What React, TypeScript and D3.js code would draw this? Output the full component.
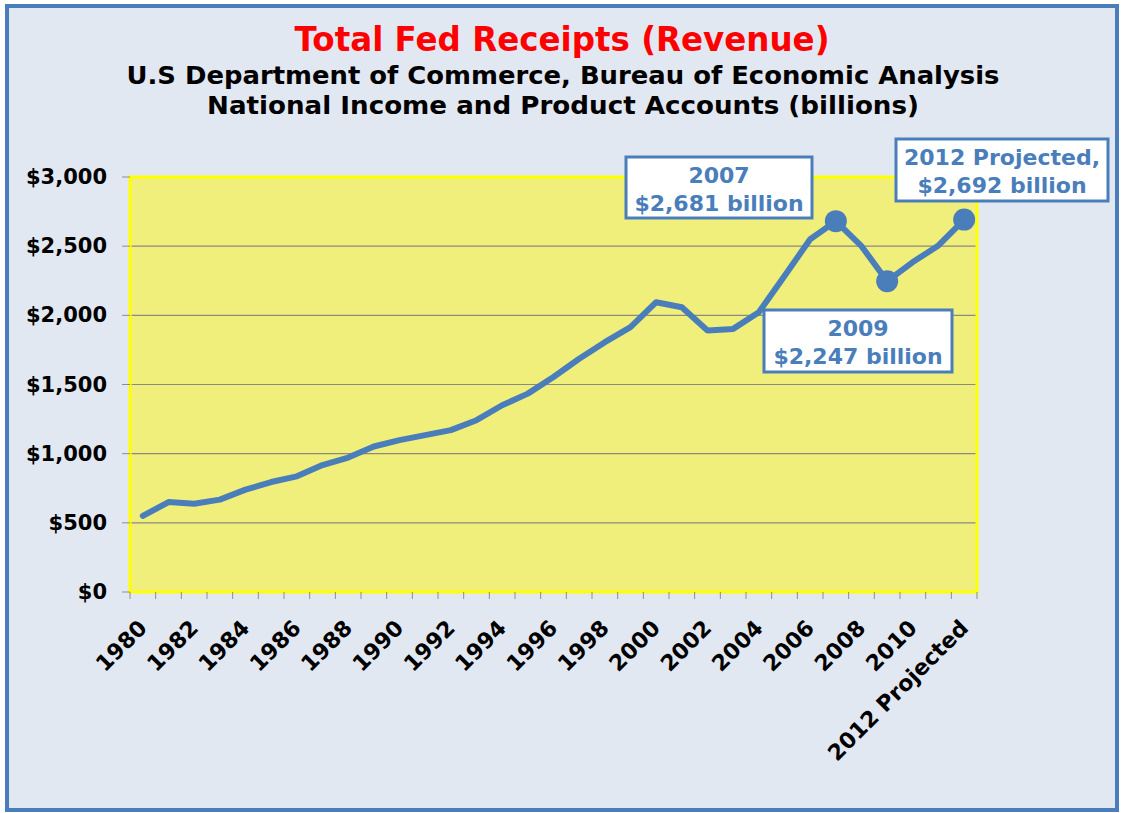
import * as d3 from 'd3'

// Federal receipts, billions of dollars
const YEARS = [
  '1980', '1981', '1982', '1983', '1984', '1985', '1986', '1987', '1988', '1989',
  '1990', '1991', '1992', '1993', '1994', '1995', '1996', '1997', '1998', '1999',
  '2000', '2001', '2002', '2003', '2004', '2005', '2006', '2007', '2008', '2009',
  '2010', '2011', '2012 Projected',
]
const RECEIPTS = [
  550, 650, 638, 668, 740, 795, 836, 918, 972, 1052,
  1098, 1134, 1170, 1242, 1350, 1434, 1554, 1686, 1806, 1915,
  2095, 2058, 1890, 1902, 2022, 2285, 2550, 2681, 2500, 2247,
  2385, 2505, 2692,
]
const Y_TICKS = [0, 500, 1000, 1500, 2000, 2500, 3000]

// highlighted points with their callout text
const CALLOUTS = [
  { year: '2007', lines: ['2007', '$2,681 billion'], box: [626, 157, 186, 61] },
  { year: '2009', lines: ['2009', '$2,247 billion'], box: [764, 310, 188, 62] },
  { year: '2012 Projected', lines: ['2012 Projected,', '$2,692 billion'], box: [896, 139, 212, 62] },
]

const W = 1123
const H = 813
const plot = { left: 130, right: 977, top: 177, bottom: 592 }
const BLUE = '#4a7ebb'
const FONT = '"DejaVu Sans", Verdana, sans-serif'

export default function App() {
  const x = d3.scaleBand<string>().domain(YEARS).range([plot.left, plot.right]).padding(0)
  const y = d3.scaleLinear().domain([0, 3000]).range([plot.bottom, plot.top])
  const cx = (c: string) => (x(c) ?? 0) + x.bandwidth() / 2

  const line = d3.line<number>()
    .x((_, i) => cx(YEARS[i]))
    .y((d) => y(d))

  const fmt = d3.format('$,')

  return (
    <svg width={W} height={H} style={{ position: 'absolute', left: 0, top: 0, display: 'block' }}>
      {/* outer frame */}
      <rect x={0} y={0} width={W} height={H} fill="#ffffff" />
      <rect x={7} y={6} width={1110} height={804} fill="#e2e8f1" stroke={BLUE} strokeWidth={4} />

      {/* titles */}
      <text x={562} y={51} textAnchor="middle" fontFamily={FONT} fontWeight="bold" fontSize={33}
        fill="#ff0000" textLength={535} lengthAdjust="spacingAndGlyphs">
        Total Fed Receipts (Revenue)
      </text>
      <text x={563} y={84} textAnchor="middle" fontFamily={FONT} fontWeight="bold" fontSize={25}
        fill="#000" textLength={873} lengthAdjust="spacingAndGlyphs">
        U.S Department of Commerce, Bureau of Economic Analysis
      </text>
      <text x={563} y={114} textAnchor="middle" fontFamily={FONT} fontWeight="bold" fontSize={25}
        fill="#000" textLength={712} lengthAdjust="spacingAndGlyphs">
        National Income and Product Accounts (billions)
      </text>

      {/* plot area */}
      <rect x={plot.left} y={plot.top} width={plot.right - plot.left} height={plot.bottom - plot.top}
        fill="#f0ef7c" />
      {Y_TICKS.filter((t) => t > 0 && t < 3000).map((t) => (
        <line key={t} x1={plot.left} x2={plot.right} y1={y(t)} y2={y(t)} stroke="#8c8a80" strokeWidth={1.2} />
      ))}
      <rect x={plot.left} y={plot.top} width={plot.right - plot.left} height={plot.bottom - plot.top}
        fill="none" stroke="#ffff00" strokeWidth={3} />

      {/* y axis */}
      {Y_TICKS.map((t) => (
        <g key={t}>
          <line x1={plot.left - 8} x2={plot.left} y1={y(t)} y2={y(t)} stroke="#8c8c8c" strokeWidth={1} />
          <text x={107} y={y(t) + 7} textAnchor="end" fontFamily={FONT} fontWeight="bold" fontSize={21} fill="#000">
            {fmt(t)}
          </text>
        </g>
      ))}

      {/* x axis ticks and labels */}
      {YEARS.concat(['']).map((c, i) => {
        const xx = plot.left + i * x.bandwidth()
        return <line key={'t' + i} x1={xx} x2={xx} y1={plot.bottom} y2={plot.bottom + 7} stroke="#8c8c8c" strokeWidth={1} />
      })}
      {YEARS.filter((_, i) => i % 2 === 0).map((c) => (
        <text key={c} transform={`translate(${cx(c)},${plot.bottom + 32}) rotate(-45)`}
          textAnchor="end" fontFamily={FONT} fontWeight="bold" fontSize={22} fill="#000" dy="0.35em">
          {c}
        </text>
      ))}

      {/* series */}
      <path d={line(RECEIPTS) ?? ''} fill="none" stroke={BLUE} strokeWidth={6} strokeLinejoin="round" strokeLinecap="round" />
      {CALLOUTS.map((c) => (
        <circle key={c.year} cx={cx(c.year)} cy={y(RECEIPTS[YEARS.indexOf(c.year)])} r={11} fill={BLUE} />
      ))}

      {/* callouts */}
      {CALLOUTS.map((c) => {
        const [bx, by, bw, bh] = c.box
        return (
          <g key={'c' + c.year}>
            <rect x={bx} y={by} width={bw} height={bh} fill="#ffffff" stroke={BLUE} strokeWidth={3} />
            {c.lines.map((l, j) => (
              <text key={j} x={bx + bw / 2} y={by + 26 + j * 28} textAnchor="middle" fontFamily={FONT}
                fontWeight="bold" fontSize={22} fill={BLUE}>
                {l}
              </text>
            ))}
          </g>
        )
      })}
    </svg>
  )
}
